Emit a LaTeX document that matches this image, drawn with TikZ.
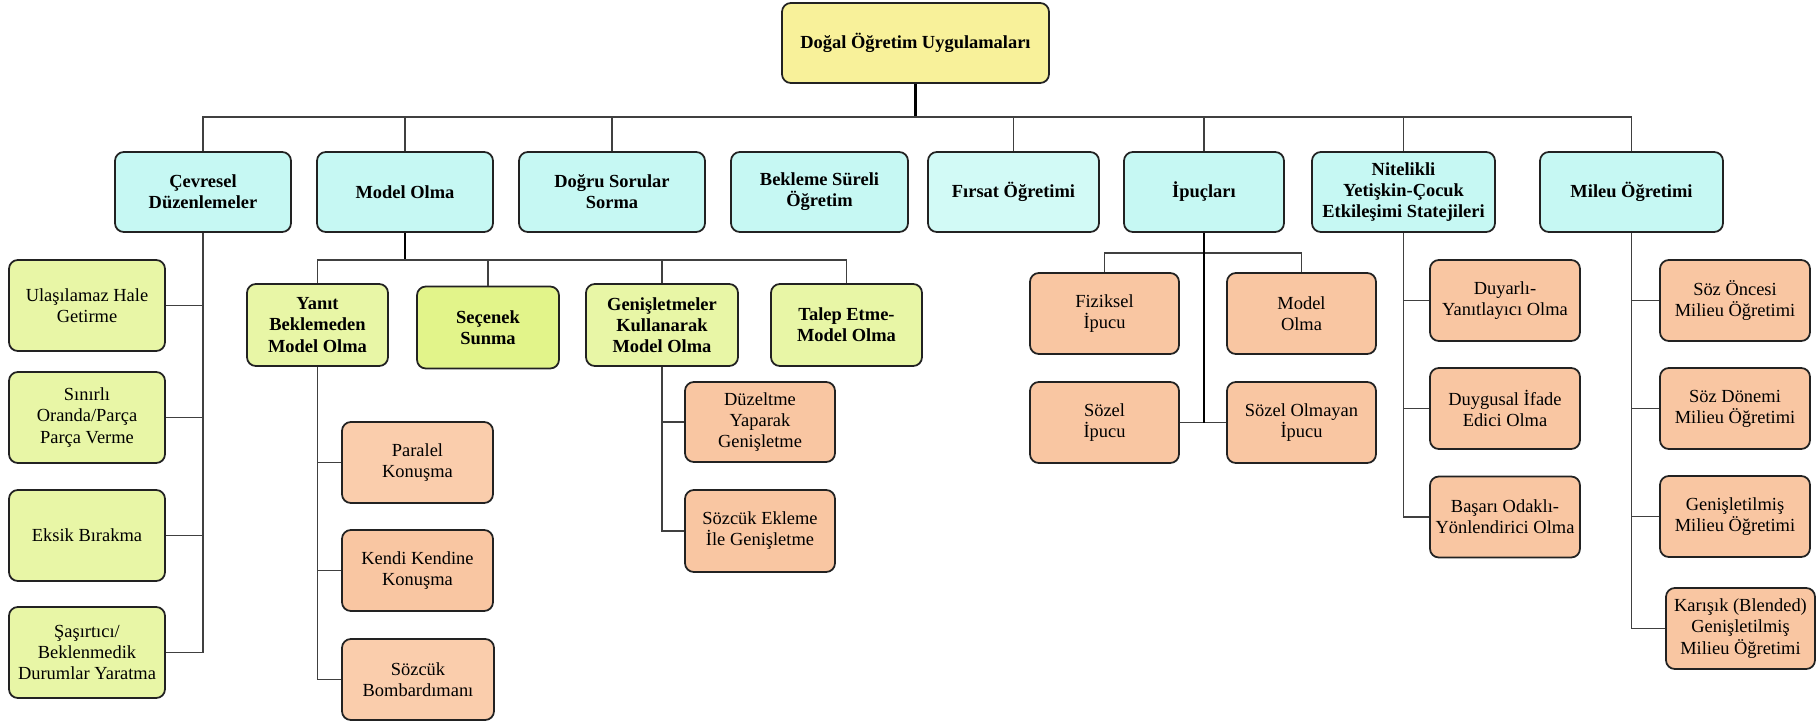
\documentclass[tikz,border=0pt]{standalone}
\usepackage{fontspec}
\setmainfont{Liberation Serif}
\usepackage{tikz}
\usetikzlibrary{backgrounds}
\definecolor{xyellow}{RGB}{248,241,154}
\definecolor{xcyan}{RGB}{198,248,243}
\definecolor{xcyanl}{RGB}{210,250,246}
\definecolor{xgreen}{RGB}{232,246,166}
\definecolor{xgreend}{RGB}{226,244,138}
\definecolor{xorange}{RGB}{249,198,162}
\definecolor{xorangel}{RGB}{250,205,172}
\definecolor{xline}{RGB}{34,34,34}
\begin{document}
\begin{tikzpicture}[x=0.02cm,y=-0.02cm]
\tikzset{box/.style={draw=xline,line width=1pt,rounded corners=5pt,align=center,inner sep=2pt,minimum height=1.62cm,font=\fontsize{10.5}{12}\selectfont}}
\tikzset{rootbox/.style={box,fill=xyellow,font=\fontsize{10.5}{12}\selectfont\bfseries}}
\tikzset{topic/.style={box,fill=xcyan,minimum height=1.6cm,font=\fontsize{10.5}{12}\selectfont\bfseries}}
\tikzset{sub/.style={box,fill=xgreen}}
\tikzset{subb/.style={box,fill=xgreen,minimum height=1.64cm,font=\fontsize{10.5}{12}\selectfont\bfseries}}
\tikzset{leaf/.style={box,fill=xorange,minimum width=3cm}}
\tikzset{link/.style={draw=black!75,line width=0.8pt}}
\tikzset{mainlink/.style={draw=black,line width=1.2pt}}
\useasboundingbox (0,0) rectangle (1816,721);
\node[rootbox,minimum width=5.34cm,minimum height=1.6cm] at (915.5,43) (root) {Doğal Öğretim Uygulamaları};
\node[topic,minimum width=3.52cm] at (203,192) (cev) {Çevresel\\Düzenlemeler};
\node[topic,minimum width=3.52cm] at (405,192) (mod) {Model Olma};
\node[topic,minimum width=3.72cm] at (612,192) (dog) {Doğru Sorular\\Sorma};
\node[topic,minimum width=3.54cm] at (819.5,192) (bek) {Bekleme Süreli\\Öğretim};
\node[topic,fill=xcyanl,minimum width=3.42cm] at (1013.5,192) (fir) {Fırsat Öğretimi};
\node[topic,minimum width=3.2cm] at (1204,192) (ipu) {İpuçları};
\node[topic,minimum width=3.66cm] at (1403.5,192) (nit) {Nitelikli\\Yetişkin-Çocuk\\Etkileşimi Statejileri};
\node[topic,minimum width=3.66cm] at (1631.5,192) (mil) {Mileu Öğretimi};
\coordinate (bus) at (0,117);
\draw[mainlink] (root.south) -- (root.south |- bus);
\draw[link] (cev.north) |- (mil.north |- bus) -- (mil.north);
\foreach \n in {mod,dog,fir,ipu,nit}
  \draw[link] (\n.north) -- (\n.north |- bus);
\node[sub,minimum width=3.12cm,minimum height=1.82cm] at (87,305.5) (ula) {Ulaşılamaz Hale\\Getirme};
\node[sub,minimum width=3.12cm,minimum height=1.82cm] at (87,417.5) (sin) {Sınırlı\\Oranda/Parça\\Parça Verme};
\node[sub,minimum width=3.12cm,minimum height=1.82cm] at (87,535.5) (eks) {Eksik Bırakma};
\node[sub,minimum width=3.12cm,minimum height=1.82cm] at (87,652.5) (sas) {Şaşırtıcı/\\Beklenmedik\\Durumlar Yaratma};
\draw[link] (cev.south) |- (sas.east);
\foreach \n in {ula,sin,eks}
  \draw[link] (\n.east) -- (\n.east -| cev.south);
\node[subb,minimum width=2.82cm] at (317.5,325) (yan) {Yanıt\\Beklemeden\\Model Olma};
\node[subb,fill=xgreend,minimum width=2.84cm] at (488,327.5) (sec) {Seçenek\\Sunma};
\node[subb,minimum width=3.04cm] at (662,325) (gen) {Genişletmeler\\Kullanarak\\Model Olma};
\node[subb,minimum width=3.02cm] at (846.5,325) (tal) {Talep Etme-\\Model Olma};
\coordinate (mbus) at (0,260);
\draw[mainlink] (mod.south) -- (mod.south |- mbus);
\draw[link] (yan.north) |- (tal.north |- mbus) -- (tal.north);
\foreach \n in {sec,gen}
  \draw[link] (\n.north) -- (\n.north |- mbus);
\node[leaf,fill=xorangel,minimum width=3.02cm] at (417.5,462.5) (par) {Paralel\\Konuşma};
\node[leaf,minimum width=3.02cm] at (417.5,570.5) (ken) {Kendi Kendine\\Konuşma};
\node[leaf,fill=xorangel,minimum width=3.04cm] at (418,679.5) (soz) {Sözcük\\Bombardımanı};
\draw[link] (yan.south) |- (soz.west);
\foreach \n in {par,ken}
  \draw[link] (\n.west) -- (\n.west -| yan.south);
\node[leaf,minimum height=1.6cm] at (760,422) (duz) {Düzeltme\\Yaparak\\Genişletme};
\node[leaf,minimum height=1.64cm] at (760,531) (sek) {Sözcük Ekleme\\İle Genişletme};
\draw[link] (gen.south) |- (sek.west);
\draw[link] (duz.west) -- (duz.west -| gen.south);
\node[leaf,minimum width=2.98cm] at (1104.5,313.5) (fiz) {Fiziksel\\İpucu};
\node[leaf,minimum width=2.98cm] at (1301.5,313.5) (imo) {Model\\Olma};
\node[leaf,minimum width=2.98cm] at (1104.5,422.5) (sip) {Sözel\\İpucu};
\node[leaf,minimum width=2.98cm] at (1301.5,422.5) (sol) {Sözel Olmayan\\İpucu};
\coordinate (ibus) at (0,253);
\draw[link] (fiz.north) |- (imo.north |- ibus) -- (imo.north);
\draw[link] (sip.east) -- (sol.west);
\draw[mainlink] (ipu.south) -- (ipu.south |- sip.east);
\node[leaf] at (1505,300.5) (duy) {Duyarlı-\\Yanıtlayıcı Olma};
\node[leaf] at (1505,408.5) (dig) {Duygusal İfade\\Edici Olma};
\node[leaf] at (1505,517) (bas) {Başarı Odaklı-\\Yönlendirici Olma};
\draw[link] (nit.south) |- (bas.west);
\foreach \n in {duy,dig}
  \draw[link] (\n.west) -- (\n.west -| nit.south);
\node[leaf] at (1735,300.5) (son) {Söz Öncesi\\Milieu Öğretimi};
\node[leaf] at (1735,408.5) (sdo) {Söz Dönemi\\Milieu Öğretimi};
\node[leaf] at (1735,516.5) (gmo) {Genişletilmiş\\Milieu Öğretimi};
\node[leaf,minimum width=2.98cm] at (1740.5,628.5) (kar) {Karışık (Blended)\\Genişletilmiş\\Milieu Öğretimi};
\draw[link] (mil.south) |- (kar.west);
\foreach \n in {son,sdo,gmo}
  \draw[link] (\n.west) -- (\n.west -| mil.south);
\end{tikzpicture}
\end{document}
